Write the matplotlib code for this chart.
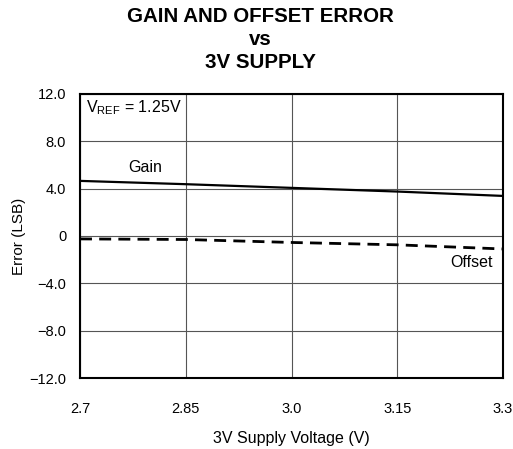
import matplotlib.pyplot as plt

plt.rcParams['font.family'] = ['Liberation Sans', 'DejaVu Sans']

# Data
voltage = [2.7, 2.85, 3.0, 3.15, 3.3]
gain_err = [4.65, 4.37, 4.06, 3.75, 3.38]
offset_err = [-0.25, -0.3, -0.55, -0.75, -1.1]

x_ticks = [2.7, 2.85, 3.0, 3.15, 3.3]
x_labels = ["2.7", "2.85", "3.0", "3.15", "3.3"]
y_ticks = [-12, -8, -4, 0, 4, 8, 12]
y_labels = ["\u221212.0", "\u22128.0", "\u22124.0", "0", "4.0", "8.0", "12.0"]

title_lines = ["GAIN AND OFFSET ERROR", "vs", "3V SUPPLY"]

fig = plt.figure(figsize=(5.13, 4.49), dpi=100)
ax = fig.add_axes([0.156, 0.158, 0.8245, 0.633])

ax.plot(voltage, gain_err, color='black', lw=1.6, solid_capstyle='butt')
ax.plot(voltage, offset_err, color='black', lw=2.0, dashes=(4.3, 2.6))

ax.set_xlim(2.7, 3.3)
ax.set_ylim(-12, 12)
ax.set_xticks(x_ticks)
ax.set_xticklabels(x_labels)
ax.set_yticks(y_ticks)
ax.set_yticklabels(y_labels)
ax.tick_params(length=0, labelsize=10.5)
ax.tick_params(axis='x', pad=17)
ax.tick_params(axis='y', pad=10)
ax.grid(True, color='#555555', lw=0.8)
ax.set_axisbelow(True)
for s in ax.spines.values():
    s.set_linewidth(1.5)

ax.text(2.708, 10.8, r"V$_{\mathregular{REF}}$ = 1.25V", fontsize=11.5, va='center')
ax.text(2.769, 5.75, "Gain", fontsize=11.5, va='center')
ax.text(3.225, -2.2, "Offset", fontsize=11.5, va='center')

ax.set_xlabel("3V Supply Voltage (V)", fontsize=11.5, labelpad=11)
ax.set_ylabel("Error (LSB)", fontsize=11, labelpad=2)

# titel: drei zeilen einzeln gesetzt
for i, line in enumerate(title_lines):
    fig.text(0.507, 0.9517 - i * 0.0519, line, ha='center', va='baseline',
             fontsize=14.8, fontweight='bold')

plt.savefig("out.png", dpi=100)
